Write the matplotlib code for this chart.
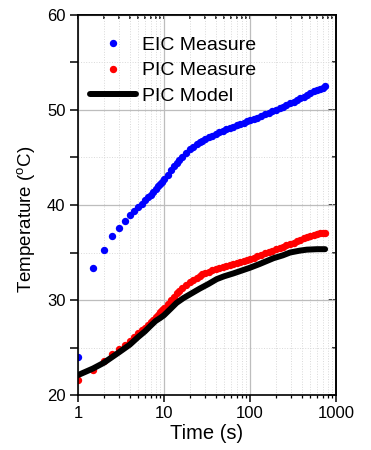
import matplotlib.pyplot as plt
from matplotlib.ticker import MultipleLocator, LogLocator, NullFormatter

plt.rcParams['font.family'] = ['Liberation Sans', 'DejaVu Sans']
plt.rcParams['mathtext.default'] = 'regular'

# measured time points (s)
time_s = [1, 1.5, 2, 2.5, 3, 3.5, 4, 4.5, 5, 5.5, 6, 6.5, 7, 7.5, 8, 8.5, 9, 9.5, 10,
          11, 12, 13, 14, 15, 16, 18, 20, 22, 24, 26, 28, 30, 33, 36, 40, 44, 48, 53,
          58, 64, 70, 77, 85, 93, 100, 110, 120, 135, 150, 165, 180, 200, 220, 240,
          265, 290, 320, 350, 385, 420, 460, 500, 550, 600, 650, 700, 750]

eic_measure = [24.0, 33.4, 35.3, 36.7, 37.6, 38.3, 38.9, 39.35, 39.75, 40.1, 40.5, 40.8,
               41.1, 41.4, 41.7, 41.95, 42.2, 42.45, 42.7,
               43.2, 43.65, 44.05, 44.4, 44.7, 45.0, 45.45, 45.85, 46.15, 46.4, 46.6, 46.75,
               46.9, 47.1, 47.3, 47.5, 47.65, 47.8, 47.95, 48.1, 48.25, 48.4, 48.5, 48.65,
               48.8, 48.9, 49.05, 49.2, 49.4, 49.55, 49.7, 49.85, 50.0, 50.15, 50.3,
               50.5, 50.7, 50.85, 51.05, 51.25, 51.4, 51.6, 51.8, 51.95, 52.1, 52.25,
               52.35, 52.5]

pic_measure = [21.6, 22.6, 23.6, 24.3, 24.8, 25.3, 25.7, 26.1, 26.5, 26.8, 27.1, 27.4,
               27.7, 27.95, 28.2, 28.45, 28.7, 28.95, 29.2,
               29.6, 30.0, 30.35, 30.7, 31.0, 31.25, 31.6, 31.9, 32.15, 32.35, 32.55, 32.7,
               32.85, 33.0, 33.15, 33.3, 33.4, 33.5, 33.6, 33.7, 33.8, 33.9, 34.0, 34.1,
               34.2, 34.3, 34.45, 34.6, 34.75, 34.9, 35.05, 35.2, 35.35, 35.5, 35.6,
               35.75, 35.9, 36.05, 36.2, 36.35, 36.5, 36.6, 36.7, 36.8, 36.9, 37.0,
               37.05, 37.1]

# model curve
model_time = [1, 1.5, 2, 3, 4, 5, 6, 7, 8, 9, 10, 12, 14, 16.8, 20, 26, 33, 41, 50,
              64, 80, 100, 130, 187, 240, 292, 380, 457, 600, 745]
pic_model = [22.1, 22.8, 23.4, 24.5, 25.3, 26.1, 26.7, 27.3, 27.8, 28.1, 28.4, 29.1,
             29.7, 30.2, 30.6, 31.2, 31.7, 32.2, 32.5, 32.8, 33.1, 33.4, 33.8, 34.4,
             34.7, 35.0, 35.2, 35.3, 35.35, 35.35]

y_ticks = [20, 30, 40, 50, 60]
x_ticks = [1, 10, 100, 1000]
x_ticklabels = ['1', '10', '100', '1000']

fig = plt.figure(figsize=(3.71, 4.5), dpi=100)
ax = fig.add_axes([0.21, 0.122, 0.696, 0.845])

ax.plot(time_s, eic_measure, 'o', color='blue', ms=5.3, mew=0, label='EIC Measure')
ax.plot(time_s, pic_measure, 'o', color='red', ms=5.3, mew=0, label='PIC Measure')
ax.plot(model_time, pic_model, color='black', lw=4.3, solid_capstyle='round',
        label='PIC Model')

ax.set_xscale('log')
ax.set_xlim(1, 1000)
ax.set_ylim(20, 60)
ax.set_xticks(x_ticks)
ax.set_xticklabels(x_ticklabels)
ax.xaxis.set_minor_locator(LogLocator(base=10, subs=range(2, 10)))
ax.xaxis.set_minor_formatter(NullFormatter())
ax.set_yticks(y_ticks)
ax.yaxis.set_minor_locator(MultipleLocator(5))

ax.grid(which='major', color='#bdbdbd', lw=0.9, ls='-')
ax.grid(which='minor', color='#d9d9d9', lw=0.7, ls=':')
ax.set_axisbelow(True)

ax.tick_params(axis='x', which='major', direction='out', length=5, width=1.1,
               labelsize=12, pad=3)
ax.tick_params(axis='x', which='minor', direction='out', length=2.5, width=0.9)
ax.tick_params(axis='y', which='both', direction='out', length=6, width=1.1,
               labelsize=12, pad=3)
for sp in ax.spines.values():
    sp.set_linewidth(1.2)

# mirrored ticks pointing inward
sec_y = ax.secondary_yaxis('right')
sec_y.set_yticks(y_ticks)
sec_y.yaxis.set_minor_locator(MultipleLocator(5))
sec_y.tick_params(which='major', direction='in', length=5.5, width=1.1, labelright=False)
sec_y.tick_params(which='minor', direction='in', length=3, width=1.1)
sec_y.spines['right'].set_linewidth(1.2)

sec_x = ax.secondary_xaxis('top')
sec_x.set_xticks(x_ticks)
sec_x.xaxis.set_minor_locator(LogLocator(base=10, subs=range(2, 10)))
sec_x.xaxis.set_minor_formatter(NullFormatter())
sec_x.tick_params(which='both', direction='in', length=3, width=1.1, labeltop=False)
sec_x.spines['top'].set_linewidth(1.2)

ax.set_xlabel('Time (s)', fontsize=14.5, labelpad=2)
ax.set_ylabel('Temperature ($^o$C)', fontsize=13.5)
ax.yaxis.set_label_coords(-0.16, 0.462)

ax.legend(loc='upper left', bbox_to_anchor=(0.016, 0.964), frameon=False,
          fontsize=14, handlelength=2.4, handletextpad=0.3, labelspacing=0.4,
          borderaxespad=0, numpoints=1)

fig.savefig('out.png', dpi=100)
